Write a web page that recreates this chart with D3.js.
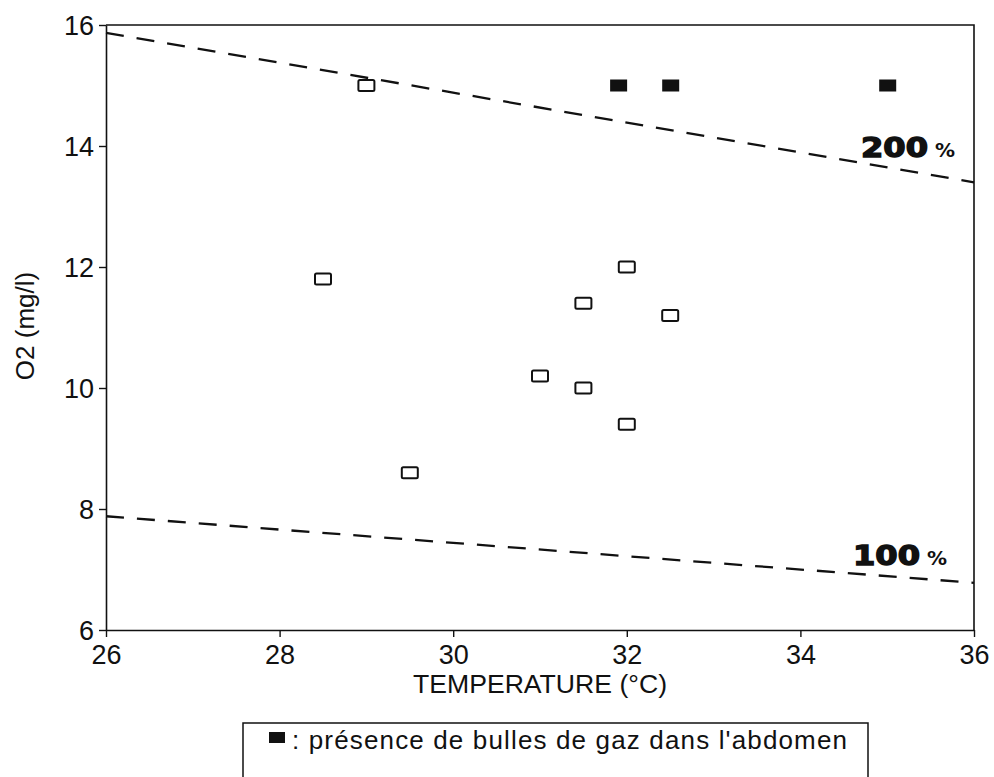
<!DOCTYPE html>
<html>
<head>
<meta charset="utf-8">
<script src="https://cdn.jsdelivr.net/npm/d3@7/dist/d3.min.js"></script>
<style>
  html, body { margin: 0; padding: 0; background: #fff; }
  svg { display: block; }
</style>
</head>
<body>
<svg id="chart" width="994" height="777"></svg>
<script>
// ---- data ----
const xTicks = [26, 28, 30, 32, 34, 36];
const yTicks = [6, 8, 10, 12, 14, 16];

const openTemp = [29, 28.5, 32, 31.5, 32.5, 31, 31.5, 32, 29.5];
const openO2   = [15, 11.8, 12, 11.4, 11.2, 10.2, 10.0, 9.4, 8.6];

const bubbleTemp = [31.9, 32.5, 35];
const bubbleO2   = [15, 15, 15];

const satTemp = [26, 36];
const sat100  = [7.88, 6.78];
const sat200  = [15.87, 13.40];

const xTitle = "TEMPERATURE (°C)";
const yTitle = "O2 (mg/l)";
const legendText = ": présence de bulles de gaz dans l'abdomen";

(function () {
// ---- layout ----
const svg = d3.select("#chart");
const mLeft = 106, mRight = 974, mTop = 25, mBottom = 630;
const x = d3.scaleLinear().domain([26, 36]).range([mLeft, mRight]);
const y = d3.scaleLinear().domain([6, 16]).range([mBottom, mTop]);
const font = "'Liberation Sans', Arial, Helvetica, sans-serif";

// frame (top & right borders)
svg.append("path")
  .attr("d", `M${mLeft},${mTop}H${mRight}V${mBottom}`)
  .attr("fill", "none").attr("stroke", "#111").attr("stroke-width", 1.6);

// axes
const yAxis = svg.append("g").attr("transform", `translate(${mLeft},0)`)
  .call(d3.axisLeft(y).tickValues(yTicks).tickFormat(d3.format("d")).tickSize(7).tickSizeOuter(0).tickPadding(5));
const xAxis = svg.append("g").attr("transform", `translate(0,${mBottom})`)
  .call(d3.axisBottom(x).tickValues(xTicks).tickFormat(d3.format("d")).tickSize(7).tickSizeOuter(0).tickPadding(5));
[xAxis, yAxis].forEach(g => {
  g.select(".domain").attr("stroke", "#111").attr("stroke-width", 1.6);
  g.selectAll(".tick line").attr("stroke", "#111").attr("stroke-width", 1.4);
  g.selectAll(".tick text").attr("fill", "#111")
    .style("font-family", font).style("font-size", "27px");
});
yAxis.selectAll(".tick text").attr("dy", "0.36em");
xAxis.selectAll(".tick text").attr("dy", "0.8em");

// saturation lines
const line = d3.line().x(d => x(d[0])).y(d => y(d[1]));
[sat100, sat200].forEach(vals => {
  svg.append("path")
    .datum(satTemp.map((t, i) => [t, vals[i]]))
    .attr("d", line)
    .attr("fill", "none").attr("stroke", "#111")
    .attr("stroke-width", 2.3).attr("stroke-dasharray", "18,13");
});

// saturation labels
[[853, 565, "100"], [861, 157, "200"]].forEach(([lx, ly, txt]) => {
  svg.append("text").attr("x", lx).attr("y", ly)
    .text(txt)
    .style("font-family", "'DejaVu Sans', sans-serif").style("font-weight", "bold")
    .style("font-size", "27px").attr("fill", "#111")
    .attr("stroke", "#111").attr("stroke-width", 1.4)
    .attr("textLength", 67).attr("lengthAdjust", "spacingAndGlyphs");
  svg.append("text").attr("x", lx + 74).attr("y", ly)
    .text("%")
    .style("font-family", "'DejaVu Sans', sans-serif").style("font-weight", "bold")
    .style("font-size", "20px").attr("fill", "#111");
});

// open squares
const mw = 16, mh = 11;
svg.append("g").selectAll("rect")
  .data(openTemp.map((t, i) => [t, openO2[i]]))
  .join("rect")
  .attr("x", d => x(d[0]) - mw / 2).attr("y", d => y(d[1]) - mh / 2)
  .attr("width", mw).attr("height", mh).attr("rx", 1.5)
  .attr("fill", "#fff").attr("stroke", "#111").attr("stroke-width", 2);

// filled squares
svg.append("g").selectAll("rect")
  .data(bubbleTemp.map((t, i) => [t, bubbleO2[i]]))
  .join("rect")
  .attr("x", d => x(d[0]) - 8).attr("y", d => y(d[1]) - 6)
  .attr("width", 17).attr("height", 12)
  .attr("fill", "#111");

// axis titles
svg.append("text").attr("x", 540).attr("y", 693)
  .attr("text-anchor", "middle").text(xTitle)
  .style("font-family", font).style("font-size", "25px").attr("fill", "#111")
  .attr("textLength", 254).attr("lengthAdjust", "spacingAndGlyphs");
svg.append("text")
  .attr("transform", "translate(34,326) rotate(-90)")
  .attr("text-anchor", "middle").text(yTitle)
  .style("font-family", font).style("font-size", "26px").attr("fill", "#111");

// legend box
svg.append("path")
  .attr("d", "M243,800V723H868V800")
  .attr("fill", "none").attr("stroke", "#111").attr("stroke-width", 1.5);
svg.append("rect").attr("x", 269).attr("y", 732).attr("width", 16).attr("height", 11)
  .attr("fill", "#111");
svg.append("text").attr("x", 292).attr("y", 749)
  .text(legendText)
  .style("font-family", font).style("font-size", "26px").attr("fill", "#111")
  .attr("textLength", 555).attr("lengthAdjust", "spacing");
})();
</script>
</body>
</html>
